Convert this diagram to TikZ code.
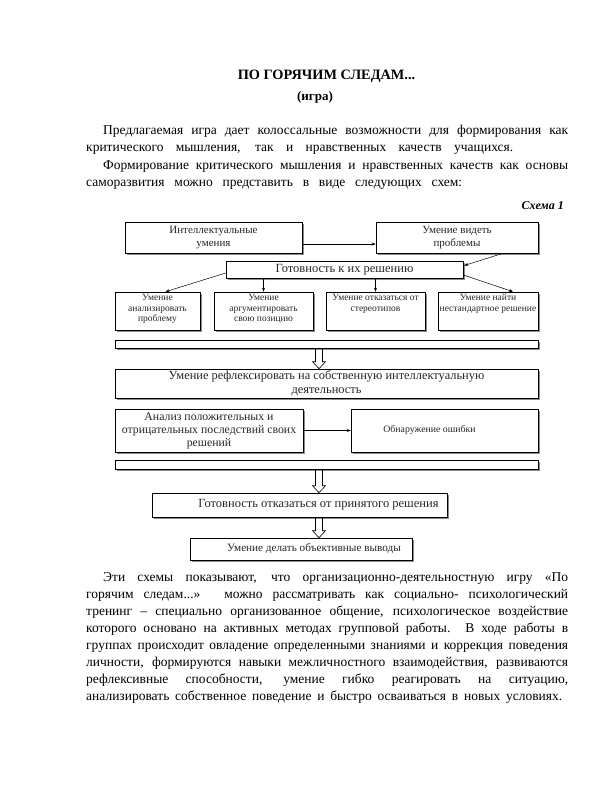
\documentclass[tikz,border=0pt]{standalone}
\usepackage{fontspec}
\setmainfont{Liberation Serif}
\usetikzlibrary{arrows.meta,shadows,calc}

\newcommand{\jline}[2]{\makebox[#1][s]{#2}}

\begin{document}
\begin{tikzpicture}[x=1pt,y=-1pt,
  txt/.style={inner sep=0pt, anchor=base west, font=\fontsize{13.5}{16}\selectfont},
  box/.style={draw, line width=0.6pt, fill=white, inner sep=0pt, align=center, text=black!85,
     drop shadow={shadow xshift=1.6pt, shadow yshift=-1.6pt, fill=black!45, opacity=1}},
  arr/.style={line width=0.5pt, -{Stealth[length=4pt,width=3pt]}},
  harr/.style={line width=0.6pt, to path={let \p1=(\tikztostart), \p2=(\tikztotarget) in
     (\x1-3.5pt,\y1) -- (\x1-3.5pt,\y2+7pt) -- (\x1-6.5pt,\y2+7pt) -- (\x1,\y2)
     -- (\x1+6.5pt,\y2+7pt) -- (\x1+3.5pt,\y2+7pt) -- (\x1+3.5pt,\y1)}},
]
\path[fill=white, use as bounding box] (0,0) rectangle (612,792);

% title
\node[inner sep=0pt, anchor=base, font=\bfseries\fontsize{14.3}{16}\selectfont] (title) at (326.5,80) {ПО ГОРЯЧИМ СЛЕДАМ...};
\node[inner sep=0pt, anchor=base, font=\bfseries\fontsize{13}{15}\selectfont] (sub) at (315,100) {(игра)};

% intro
\node[txt] (p1a) at (103,134) {\jline{465pt}{Предлагаемая игра дает колоссальные возможности для формирования как}};
\node[txt] (p1b) at (86,151) {\jline{427pt}{критического мышления, так и нравственных качеств учащихся.}};
\node[txt] (p2a) at (103,169) {\jline{465pt}{Формирование критического мышления и нравственных качеств как основы}};
\node[txt] (p2b) at (86,186) {\jline{376pt}{саморазвития можно представить в виде следующих схем:}};
\node[inner sep=0pt, anchor=base east, font=\bfseries\itshape\fontsize{12}{14}\selectfont] (schema) at (564,209) {Схема 1};

% diagram
\node[box, minimum width=177pt, minimum height=31pt, font=\fontsize{11}{13}\selectfont] (intel) at (213.5,237.5) {Интеллектуальные\\умения};
\node[box, minimum width=162pt, minimum height=31pt, font=\fontsize{11}{13}\selectfont] (vid) at (457,237.5) {Умение видеть\\проблемы};
\node[box, minimum width=237pt, minimum height=17pt, font=\fontsize{12.5}{14}\selectfont] (gotov) at (344.5,269.5) {Готовность к их решению};

\node[box] (a1) at (157.5,311) {\parbox[c][38pt][t]{85pt}{\centering\fontsize{9.5}{10.5}\selectfont\rule{0pt}{8.5pt}Умение\\анализировать\\проблему}};
\node[box] (a2) at (263.5,311) {\parbox[c][38pt][t]{99pt}{\centering\fontsize{9.5}{10.5}\selectfont\rule{0pt}{8.5pt}Умение\\аргументировать\\свою позицию}};
\node[box] (a3) at (375.5,311) {\parbox[c][38pt][t]{99pt}{\centering\fontsize{9.5}{10.5}\selectfont\rule{0pt}{8.5pt}Умение отказаться от\\стереотипов}};
\node[box] (a4) at (488,311) {\parbox[c][38pt][t]{100pt}{\centering\fontsize{9.5}{10.5}\selectfont\rule{0pt}{8.5pt}Умение найти\\нестандартное решение}};

\node[box, minimum width=423pt, minimum height=8pt] (bar1) at (326.5,344) {};
\node[box, minimum width=423pt, minimum height=29pt, font=\fontsize{12.4}{13.5}\selectfont] (refl) at (326.5,383.5) {Умение рефлексировать на собственную интеллектуальную\\деятельность};
\node[box, minimum width=188pt, minimum height=43pt, font=\fontsize{11.8}{13}\selectfont] (anal) at (209,430.5) {Анализ положительных и\\отрицательных последствий своих\\решений};
\node[box, minimum width=187pt, minimum height=43pt, font=\fontsize{9.8}{12}\selectfont] (obn) at (444.5,430.5) {Обнаружение ошибки\hspace*{30pt}};
\node[box, minimum width=423pt, minimum height=9pt] (bar2) at (326.5,464.5) {};
\node[box, minimum width=295pt, minimum height=24pt, font=\fontsize{12.5}{14}\selectfont] (otk) at (299.5,505) {\hspace*{38pt}Готовность отказаться от принятого решения};
\node[box, minimum width=222pt, minimum height=22pt, font=\fontsize{11.2}{13}\selectfont] (vyv) at (301,549) {\hspace*{26pt}Умение делать объективные выводы};

\coordinate (ax) at (319,0);

% connectors
\draw[arr] ($(intel.east)+(0,6.5)$) -- ($(vid.west)+(0,6.5)$);
\draw[arr] ($(vid.south)+(46,0)$) -- ($(gotov.east)+(1,-4)$);
\draw[arr] ($(gotov.west)+(0,3.5)$) -- ($(a1.north)+(8,0)$);
\draw[arr] (gotov.south -| a2.north) -- (a2.north);
\draw[arr] (gotov.south -| a3.north) -- (a3.north);
\draw[arr] ($(gotov.east)+(0,5.5)$) -- ($(a4.north)+(25,0)$);
\draw[arr] (anal.east) -- (obn.west);
\draw[harr] (bar1.south -| ax) to (refl.north -| ax);
\draw[harr] (bar2.south -| ax) to (otk.north -| ax);
\draw[harr] (otk.south -| ax) to (vyv.north -| ax);

% closing paragraph
\node[txt] (q1) at (103,581) {\jline{465pt}{Эти схемы показывают, что организационно-деятельностную игру «По}};
\node[txt] (q2) at (86,598) {\jline{482pt}{горячим следам...» можно рассматривать как социально- психологический}};
\node[txt] (q3) at (86,615) {\jline{482pt}{тренинг – специально организованное общение, психологическое воздействие}};
\node[txt] (q4) at (86,632) {\jline{482pt}{которого основано на активных методах групповой работы. В ходе работы в}};
\node[txt] (q5) at (86,649) {\jline{482pt}{группах происходит овладение определенными знаниями и коррекция поведения}};
\node[txt] (q6) at (86,666) {\jline{482pt}{личности, формируются навыки межличностного взаимодействия, развиваются}};
\node[txt] (q7) at (86,683) {\jline{482pt}{рефлексивные способности, умение гибко реагировать на ситуацию,}};
\node[txt] (q8) at (86,700) {\jline{476pt}{анализировать собственное поведение и быстро осваиваться в новых условиях.}};
\end{tikzpicture}
\end{document}
